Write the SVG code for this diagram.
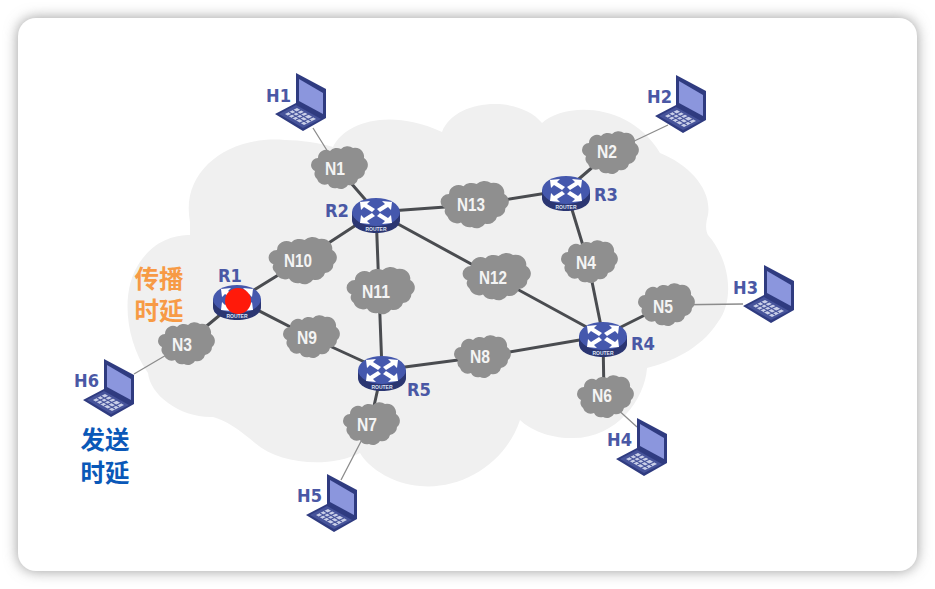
<svg xmlns="http://www.w3.org/2000/svg" width="935" height="589" viewBox="0 0 935 589">
<style>
.lbl{font-family:"DejaVu Sans",sans-serif;font-weight:700;font-size:17px;fill:#4a58a5}
.n{font-family:"Liberation Sans",Arial,sans-serif;font-weight:700;font-size:18px;fill:#f4f4f4;text-anchor:middle}
.cjk{font-family:"Liberation Sans","Noto Sans CJK SC",sans-serif;font-weight:700;font-size:24.500px;text-anchor:middle}
.thick{stroke:#4a4c50;stroke-width:3;fill:none}
.thin{stroke:#8c8c8c;stroke-width:1.300;fill:none}
.cl{fill:#8f8f8f}
</style>
<defs>
<filter id="sh" x="-5%" y="-5%" width="110%" height="110%"><feGaussianBlur stdDeviation="7"/></filter>
<path id="cloud" class="cl" d="M-20-10A8 8 0 0 1-8-17A9 9 0 0 1 3-19A9 9 0 0 1 15-20A9 9 0 0 1 26-10A8 8 0 0 1 27 3A8 8 0 0 1 20 11A8 8 0 0 1 10 17A8 8 0 0 1-1 20A8 8 0 0 1-10 16A8 8 0 0 1-21 11A7 7 0 0 1-23 3A7 7 0 0 1-27-3A7 7 0 0 1-20-10Z"/>
<path id="cloudL" class="cl" transform="scale(1.2 1.1)" d="M-20-10A8 8 0 0 1-8-17A9 9 0 0 1 3-19A9 9 0 0 1 15-20A9 9 0 0 1 26-10A8 8 0 0 1 27 3A8 8 0 0 1 20 11A8 8 0 0 1 10 17A8 8 0 0 1-1 20A8 8 0 0 1-10 16A8 8 0 0 1-21 11A7 7 0 0 1-23 3A7 7 0 0 1-27-3A7 7 0 0 1-20-10Z"/>
<g id="arrow"><path d="M-16-10L-6-11L-9-8L-1-3L-4 0L-12-5L-15-2Z" fill="#fff"/></g>
<g id="router">
<path d="M-24 0V8C-24 16-13 21 0 21S24 16 24 8V0Z" fill="#2b3672"/>
<ellipse cx="0" cy="0" rx="24" ry="14" fill="#4558ad"/>
<use href="#arrow"/><use href="#arrow" transform="scale(-1 1)"/><use href="#arrow" transform="translate(0 1) scale(1 -1)"/><use href="#arrow" transform="translate(0 1) scale(-1 -1)"/>
<text x="0" y="18.500" font-family="Liberation Sans,sans-serif" font-size="5" font-weight="700" fill="#dfe3f5" text-anchor="middle">ROUTER</text>
</g>
<g id="laptop">
<path d="M21 0L51 16V45L28 58L0 41L21 30Z" fill="#2f3b80"/>
<path d="M24 6L48 20V41L24 28Z" fill="#8b96dd"/>
<path d="M4 41L21 32L46 46L28 55Z" fill="#46539a"/>
<path d="M10 41L22 35L41 46L29 52Z" fill="#c9cfe8"/>
<path d="M13 43L26 37M17 45L30 39M21 47L34 41M25 50L38 44M14 39L32 50M18 37L36 48" stroke="#46539a" stroke-width="1.100"/>
</g>
</defs>
<rect width="935" height="589" fill="#fff"/>
<rect x="18" y="18" width="899" height="553" rx="18" fill="#9a9a9a" filter="url(#sh)"/>
<rect x="18" y="18" width="899" height="553" rx="18" fill="#fff"/>
<path id="background-cloud" fill="#f0f0f0" d="M190 222C180 170 230 135 285 140C300 140 320 143 333 147C345 122 390 108 442 132C455 98 520 95 542 123C565 102 630 102 660 153C690 165 712 190 708 215C705 225 706 232 708 235C730 260 735 300 718 322C700 350 670 362 647 368C645 400 615 440 570 438C550 438 530 430 520 420C505 465 460 490 420 486C395 484 370 470 360 453C330 468 280 465 255 443C240 430 225 420 213 417C180 418 150 395 148 373C125 340 120 290 140 262C155 240 175 235 190 235Z"/>
<g id="connectors">
<path class="thick" d="M338 168L376 212M376 212L473 205M473 205L566 190M566 190L609 153M376 212L301 261M301 261L238 300M376 212L379 291M379 291L382 370M238 300L310 337M310 337L382 370M238 300L185 344M376 212L495 277M495 277L603 336M382 370L481 357M481 357L603 336M566 190L588 262M588 262L603 336M603 336L665 305M603 336L604 397M382 370L370 424"/>
<path class="thin" d="M313 128L338 168M668 125L609 153M665 305L743 304M604 397L637 427M370 424L341 480M185 344L134 374"/>
</g>
<g id="H1"><use href="#laptop" x="275" y="73"/><text class="lbl" x="266" y="102" textLength="25" lengthAdjust="spacingAndGlyphs">H1</text></g>
<g id="H2"><use href="#laptop" x="655" y="75"/><text class="lbl" x="647" y="103" textLength="25" lengthAdjust="spacingAndGlyphs">H2</text></g>
<g id="H3"><use href="#laptop" x="743" y="265"/><text class="lbl" x="733" y="294" textLength="25" lengthAdjust="spacingAndGlyphs">H3</text></g>
<g id="H4"><use href="#laptop" x="616" y="418"/><text class="lbl" x="607" y="446" textLength="25" lengthAdjust="spacingAndGlyphs">H4</text></g>
<g id="H5"><use href="#laptop" x="306" y="474"/><text class="lbl" x="297" y="502" textLength="25" lengthAdjust="spacingAndGlyphs">H5</text></g>
<g id="H6"><use href="#laptop" x="83" y="359"/><text class="lbl" x="74" y="387" textLength="25" lengthAdjust="spacingAndGlyphs">H6</text></g>
<g id="N1"><use href="#cloud" transform="translate(338 168)"/><text class="n" x="335" y="175" textLength="20" lengthAdjust="spacingAndGlyphs">N1</text></g>
<g id="N2"><use href="#cloud" transform="translate(609 153)"/><text class="n" x="607" y="158" textLength="20" lengthAdjust="spacingAndGlyphs">N2</text></g>
<g id="N3"><use href="#cloud" transform="translate(185 344)"/><text class="n" x="182" y="351" textLength="20" lengthAdjust="spacingAndGlyphs">N3</text></g>
<g id="N4"><use href="#cloud" transform="translate(588 262)"/><text class="n" x="586" y="269" textLength="20" lengthAdjust="spacingAndGlyphs">N4</text></g>
<g id="N5"><use href="#cloud" transform="translate(665 305)"/><text class="n" x="663" y="313" textLength="20" lengthAdjust="spacingAndGlyphs">N5</text></g>
<g id="N6"><use href="#cloud" transform="translate(604 397)"/><text class="n" x="602" y="402" textLength="20" lengthAdjust="spacingAndGlyphs">N6</text></g>
<g id="N7"><use href="#cloud" transform="translate(370 424)"/><text class="n" x="367" y="431" textLength="20" lengthAdjust="spacingAndGlyphs">N7</text></g>
<g id="N8"><use href="#cloud" transform="translate(481 357)"/><text class="n" x="480" y="363" textLength="20" lengthAdjust="spacingAndGlyphs">N8</text></g>
<g id="N9"><use href="#cloud" transform="translate(310 337)"/><text class="n" x="307" y="344" textLength="20" lengthAdjust="spacingAndGlyphs">N9</text></g>
<g id="N10"><use href="#cloudL" transform="translate(301 261)"/><text class="n" x="298" y="267" textLength="28" lengthAdjust="spacingAndGlyphs">N10</text></g>
<g id="N11"><use href="#cloudL" transform="translate(379 291)"/><text class="n" x="376" y="298" textLength="28" lengthAdjust="spacingAndGlyphs">N11</text></g>
<g id="N12"><use href="#cloudL" transform="translate(495 277)"/><text class="n" x="493" y="284" textLength="28" lengthAdjust="spacingAndGlyphs">N12</text></g>
<g id="N13"><use href="#cloudL" transform="translate(473 205)"/><text class="n" x="471" y="211" textLength="28" lengthAdjust="spacingAndGlyphs">N13</text></g>
<g id="R1"><use href="#router" x="237" y="299"/><text class="lbl" x="218" y="282" textLength="24" lengthAdjust="spacingAndGlyphs">R1</text><circle cx="238" cy="301" r="13" fill="#ff1a0a"/></g>
<g id="R2"><use href="#router" x="376" y="212"/><text class="lbl" x="325" y="217" textLength="24" lengthAdjust="spacingAndGlyphs">R2</text></g>
<g id="R3"><use href="#router" x="566" y="190"/><text class="lbl" x="594" y="201" textLength="24" lengthAdjust="spacingAndGlyphs">R3</text></g>
<g id="R4"><use href="#router" x="603" y="336"/><text class="lbl" x="631" y="350" textLength="24" lengthAdjust="spacingAndGlyphs">R4</text></g>
<g id="R5"><use href="#router" x="382" y="370"/><text class="lbl" x="407" y="396" textLength="24" lengthAdjust="spacingAndGlyphs">R5</text></g>
<g id="labels">
<text class="cjk" fill="#f79a45" x="159" y="288">传播</text>
<text class="cjk" fill="#f79a45" x="159" y="320">时延</text>
<text class="cjk" fill="#0a58b8" x="105" y="449">发送</text>
<text class="cjk" fill="#0a58b8" x="105" y="482">时延</text>
</g>
</svg>
